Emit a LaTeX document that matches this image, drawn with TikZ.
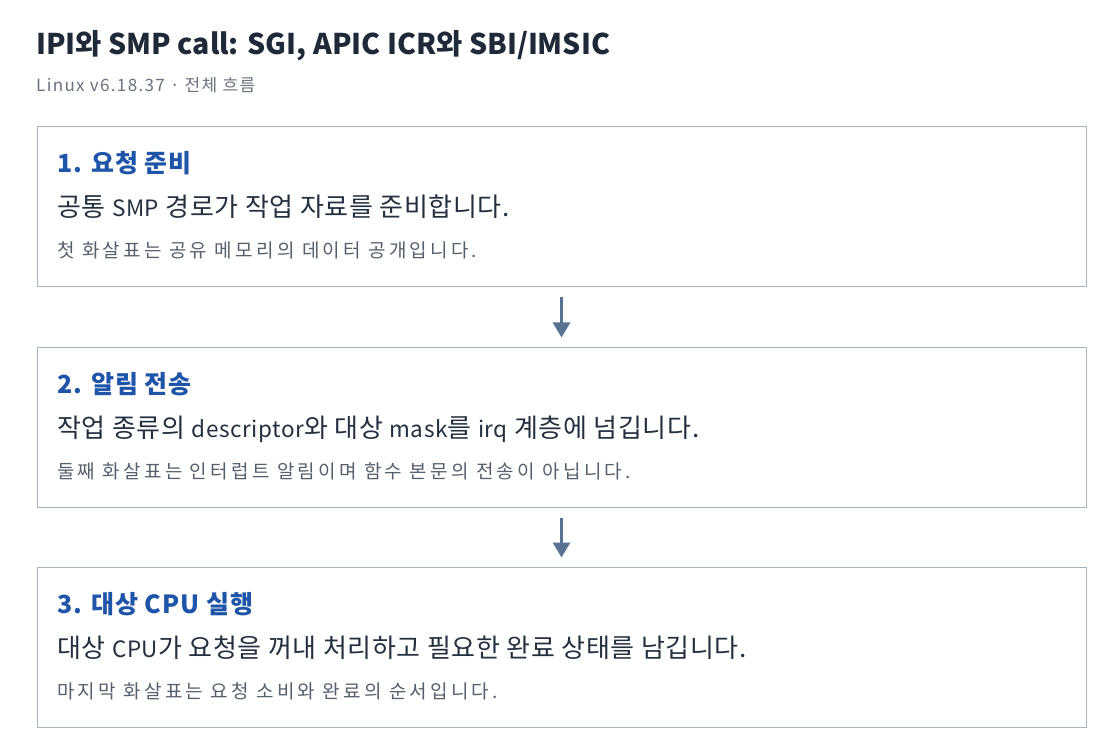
\documentclass[tikz,border=0pt]{standalone}
\usepackage{fontspec}
\setmainfont{Noto Sans CJK KR}
\definecolor{titlec}{HTML}{1F2937}
\definecolor{subc}{HTML}{6B7280}
\definecolor{headc}{HTML}{1F55A8}
\definecolor{mainc}{HTML}{243040}
\definecolor{notec}{HTML}{555F6D}
\definecolor{borderc}{HTML}{A8B3C2}
\definecolor{arrowc}{HTML}{587391}
\newfontfamily\subfont{Noto Sans CJK KR}[LetterSpace=8]
\newfontfamily\headfont{Noto Sans CJK KR}[LetterSpace=4]
\newfontfamily\mainfont{Noto Sans CJK KR}[LetterSpace=2.5]
\newfontfamily\notefont{Noto Sans CJK KR}[LetterSpace=17]
\newcommand\latw[1]{{\fontsize{22.5}{30}\selectfont #1}}
\usetikzlibrary{arrows.meta}
\tikzset{
  stepframe/.style={draw=borderc, line width=1pt, fill=white, minimum width=1049pt, minimum height=160pt, anchor=north west, inner sep=0pt},
  titletext/.style={anchor=base west, inner sep=0pt, text=titlec, font=\fontsize{28.5}{32}\selectfont\bfseries},
  subtext/.style={anchor=base west, inner sep=0pt, text=subc, font=\subfont\fontsize{17}{20}\selectfont},
  headtext/.style={anchor=base west, inner sep=0pt, text=headc, font=\headfont\fontsize{25}{29}\selectfont\bfseries},
  maintext/.style={anchor=base west, inner sep=0pt, text=mainc, font=\mainfont\fontsize{26}{30}\selectfont},
  notetext/.style={anchor=base west, inner sep=0pt, text=notec, font=\notefont\fontsize{19}{23}\selectfont},
  flow/.style={draw=arrowc, line width=3pt, -{Triangle[length=15pt,width=17pt]}},
}
\begin{document}
\begin{tikzpicture}[x=1pt,y=-1pt]
\useasboundingbox[fill=white] (0,0) rectangle (1120,754);
\node[titletext] (title) at (36,55) {IPI와 SMP call: SGI, APIC ICR와 SBI/IMSIC};
\node[subtext] (sub) at (36,92) {Linux v6.18.37 · 전체 흐름};

\node[stepframe] (b1) at (36.5,126.5) {};
\node[stepframe] (b2) at (36.5,346.5) {};
\node[stepframe] (b3) at (36.5,566.5) {};

\node[headtext] (h1) at (57,173) {1. 요청 준비};
\node[maintext] (m1) at (57,217) {공통 \latw{SMP} 경로가 작업 자료를 준비합니다.};
\node[notetext] (n1) at (57,258) {첫 화살표는 공유 메모리의 데이터 공개입니다.};

\node[headtext] (h2) at (57,393) {2. 알림 전송};
\node[maintext] (m2) at (57,437) {작업 종류의 \latw{descriptor}와 대상 \latw{mask}를 \latw{irq} 계층에 넘깁니다.};
\node[notetext] (n2) at (57,478) {둘째 화살표는 인터럽트 알림이며 함수 본문의 전송이 아닙니다.};

\node[headtext] (h3) at (57,613) {3. 대상 CPU 실행};
\node[maintext] (m3) at (57,657) {대상 \latw{CPU}가 요청을 꺼내 처리하고 필요한 완료 상태를 남깁니다.};
\node[notetext] (n3) at (57,698) {마지막 화살표는 요청 소비와 완료의 순서입니다.};

\draw[flow] ([yshift=-10pt]b1.south) -- ([yshift=9pt]b2.north);
\draw[flow] ([yshift=-10pt]b2.south) -- ([yshift=9pt]b3.north);
\end{tikzpicture}
\end{document}
